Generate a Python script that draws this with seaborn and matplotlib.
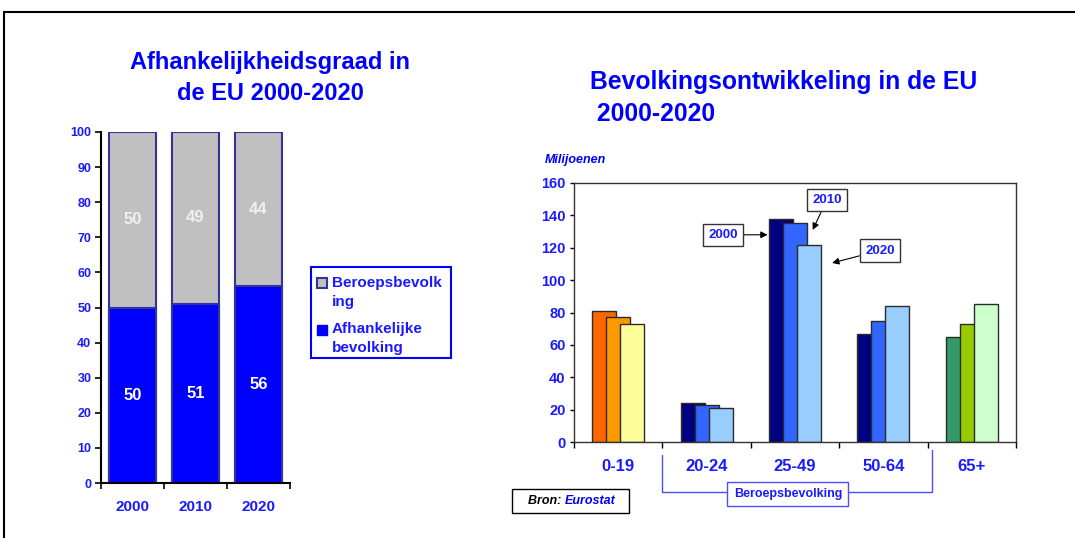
import numpy as np
import pandas as pd
import seaborn as sns
import matplotlib
matplotlib.use("Agg")
import matplotlib.pyplot as plt
from matplotlib.patches import Rectangle
from matplotlib.lines import Line2D
from matplotlib.text import Annotation

# ---------------- data ----------------
years_left = ["2000", "2010", "2020"]
afhankelijk = [50, 51, 56]
beroeps = [50, 49, 44]
legend_labels = ["Beroepsbevolk\ning", "Afhankelijke\nbevolking"]

age_groups = ["0-19", "20-24", "25-49", "50-64", "65+"]
years_right = ["2000", "2010", "2020"]
pop_2000 = [81, 24, 138, 67, 65]
pop_2010 = [77, 23, 135, 75, 73]
pop_2020 = [73, 21, 122, 84, 85]

group_colors = [
    ["#FF6600", "#FF9900", "#FFFF99"],
    ["#000080", "#3366FF", "#99CCFF"],
    ["#000080", "#3366FF", "#99CCFF"],
    ["#000080", "#3366FF", "#99CCFF"],
    ["#339966", "#99CC00", "#CCFFCC"],
]

BLUE = "#0000FF"
TXT = "#1A1AFF"
GRAY = "#C0C0C0"

sns.set_theme(style="white")
plt.rcParams["font.family"] = ["Liberation Sans", "DejaVu Sans"]
plt.rcParams["font.weight"] = "bold"

W, H = 1075, 538
def fx(px):
    return px / W
def fy(py):
    return 1 - py / H

fig = plt.figure(figsize=(10.75, 5.38), dpi=100)

# outer frame
fig.add_artist(Line2D([fx(4), 1.0], [fy(12), fy(12)], transform=fig.transFigure, color="black", lw=1.5))
fig.add_artist(Line2D([fx(4), fx(4)], [0, fy(12)], transform=fig.transFigure, color="black", lw=1.5))

# ---------------- left chart ----------------
ax1 = fig.add_axes([fx(101), fy(483), 189/W, 351/H])
df_left = pd.DataFrame({"year": years_left, "afh": afhankelijk, "ber": beroeps})
df_left["total"] = df_left["afh"] + df_left["ber"]
sns.barplot(data=df_left, x="year", y="total", color=GRAY, width=0.75,
            edgecolor="#333399", linewidth=1.5, saturation=1, ax=ax1)
sns.barplot(data=df_left, x="year", y="afh", color=BLUE, width=0.75,
            edgecolor="#333399", linewidth=1.5, saturation=1, ax=ax1)
c_gray, c_blue = ax1.containers[0], ax1.containers[1]
for rect, val, lo in zip(c_gray, beroeps, afhankelijk):
    ax1.text(rect.get_x() + rect.get_width()/2, lo + val/2, str(val), ha="center", va="center",
             color="#F0F0F0", fontsize=12, fontweight="bold")
ax1.bar_label(c_blue, labels=[str(v) for v in afhankelijk], label_type="center",
              color="white", fontsize=12, fontweight="bold")
ax1.set_ylim(0, 100)
ax1.set_xlim(-0.5, 2.5)
ax1.set_yticks(range(0, 101, 10))
ax1.set_xticks([0, 1, 2])
ax1.set_xticks([-0.5, 0.5, 1.5, 2.5], minor=True)
ax1.tick_params(axis="x", which="major", length=0, pad=12, labelsize=11, labelcolor=TXT)
ax1.tick_params(axis="x", which="minor", length=4, width=1.2, color="black", direction="out", bottom=True)
ax1.tick_params(axis="y", length=4, width=1.2, color="black", direction="out", left=True,
                labelsize=9, labelcolor=TXT, pad=3)
for lab in ax1.get_xticklabels() + ax1.get_yticklabels():
    lab.set_fontweight("bold")
ax1.set_xlabel("")
ax1.set_ylabel("")
for s in ["top", "right"]:
    ax1.spines[s].set_visible(False)
for s in ["left", "bottom"]:
    ax1.spines[s].set_color("black")
    ax1.spines[s].set_linewidth(1.5)
ax1.grid(False)

fig.text(fx(270), fy(78), "Afhankelijkheidsgraad in\nde EU 2000-2020", ha="center", va="center",
         color=BLUE, fontsize=17, fontweight="bold", linespacing=1.45)

# legend (drawn as a boxed key)
fig.add_artist(Rectangle((fx(311), fy(358)), (451-311)/W, (358-267)/H, transform=fig.transFigure,
                         fc="white", ec=BLUE, lw=1.5))
fig.add_artist(Rectangle((fx(317), fy(288)), 10/W, 10/H, transform=fig.transFigure,
                         fc=GRAY, ec="#333399", lw=1.5))
fig.add_artist(Rectangle((fx(317), fy(335)), 10/W, 10/H, transform=fig.transFigure,
                         fc=BLUE, ec=BLUE, lw=1.0))
fig.text(fx(332), fy(276), legend_labels[0], ha="left", va="top", color=TXT,
         fontsize=11, fontweight="bold", linespacing=1.45)
fig.text(fx(332), fy(322), legend_labels[1], ha="left", va="top", color=TXT,
         fontsize=11, fontweight="bold", linespacing=1.45)

# ---------------- right chart ----------------
ax2 = fig.add_axes([fx(574), fy(442), 442/W, 259/H])
df_right = pd.DataFrame({
    "group": age_groups * 3,
    "year": sum([[y]*len(age_groups) for y in years_right], []),
    "value": pop_2000 + pop_2010 + pop_2020,
})
sns.barplot(data=df_right, x="group", y="value", hue="year", dodge=True, width=0.475, gap=0,
            palette=["#000080", "#3366FF", "#99CCFF"], edgecolor="#2b2b2b", linewidth=1.0,
            saturation=1, legend=False, ax=ax2)
step = 0.475 / 3
bw = 0.27
for p in ax2.patches:
    c = p.get_x() + p.get_width()/2
    cat = int(round(c))
    h = int(round((c - cat)/step)) + 1
    p.set_x(c - bw/2)
    p.set_width(bw)
    p.set_facecolor(group_colors[cat][h])

ax2.set_ylim(0, 160)
ax2.set_xlim(-0.5, 4.5)
ax2.set_yticks(range(0, 161, 20))
ax2.set_xticks(range(5))
ax2.set_xticks(np.arange(-0.5, 5, 1), minor=True)
ax2.tick_params(axis="x", which="major", length=0, pad=12, labelsize=12, labelcolor=TXT)
ax2.tick_params(axis="x", which="minor", length=4, width=1.0, color="black", direction="out", bottom=True)
ax2.tick_params(axis="y", length=3, width=1.0, color="black", direction="out", left=True,
                labelsize=10.5, labelcolor=TXT, pad=3)
for lab in ax2.get_xticklabels() + ax2.get_yticklabels():
    lab.set_fontweight("bold")
ax2.set_xlabel("")
ax2.set_ylabel("")
for s in ax2.spines.values():
    s.set_visible(True)
    s.set_color("#333333")
    s.set_linewidth(1.0)
ax2.grid(False)

fig.text(fx(590), fy(98), "Bevolkingsontwikkeling in de EU\n 2000-2020", ha="left", va="center",
         color=BLUE, fontsize=17.8, fontweight="bold", linespacing=1.45)
fig.text(fx(545), fy(160), "Milijoenen", ha="left", va="center", color=BLUE,
         fontsize=9, fontweight="bold", style="italic")

arrow = dict(arrowstyle="-|>", color="black", lw=0.8, mutation_scale=10, shrinkA=0, shrinkB=0)
box = dict(boxstyle="square,pad=0.4", fc="white", ec="#333333", lw=1.0)
ax2.annotate("2000", xy=(1.69, 128), xytext=(1.19, 128), ha="center", va="center",
             fontsize=9.5, fontweight="bold", color=TXT, bbox=box, arrowprops=arrow)
ax2.annotate("2010", xy=(2.20, 131), xytext=(2.36, 149.5), ha="center", va="center",
             fontsize=9.5, fontweight="bold", color=TXT, bbox=box, arrowprops=arrow)
ax2.annotate("2020", xy=(2.42, 110.6), xytext=(2.96, 118.3), ha="center", va="center",
             fontsize=9.5, fontweight="bold", color=TXT, bbox=box, arrowprops=arrow)

# bracket for Beroepsbevolking
tr = ax2.get_xaxis_transform()
ax2.plot([0.5, 0.5, 3.55, 3.55], [-0.05, -0.193, -0.193, -0.03], transform=tr,
         color="#4D4DFF", lw=1.0, clip_on=False)
ax2.text(1.92, -0.2, "Beroepsbevolking", transform=tr, ha="center", va="center",
         fontsize=9, fontweight="bold", color=TXT,
         bbox=dict(boxstyle="square,pad=0.5", fc="white", ec="#4D4DFF", lw=1.0))

# source box
fig.add_artist(Rectangle((fx(512), fy(513)), (629-512)/W, 24/H, transform=fig.transFigure,
                         fc="white", ec="black", lw=1.0))
t_bron = fig.text(fx(528), fy(501), "Bron: ", ha="left", va="center", fontsize=9,
                  fontweight="bold", style="italic", color="black")
fig.add_artist(Annotation("Eurostat", xy=(1, 0.5), xycoords=t_bron, ha="left", va="center",
                          fontsize=9, fontweight="bold", style="italic", color=BLUE))

fig.savefig("out.png", dpi=100)
